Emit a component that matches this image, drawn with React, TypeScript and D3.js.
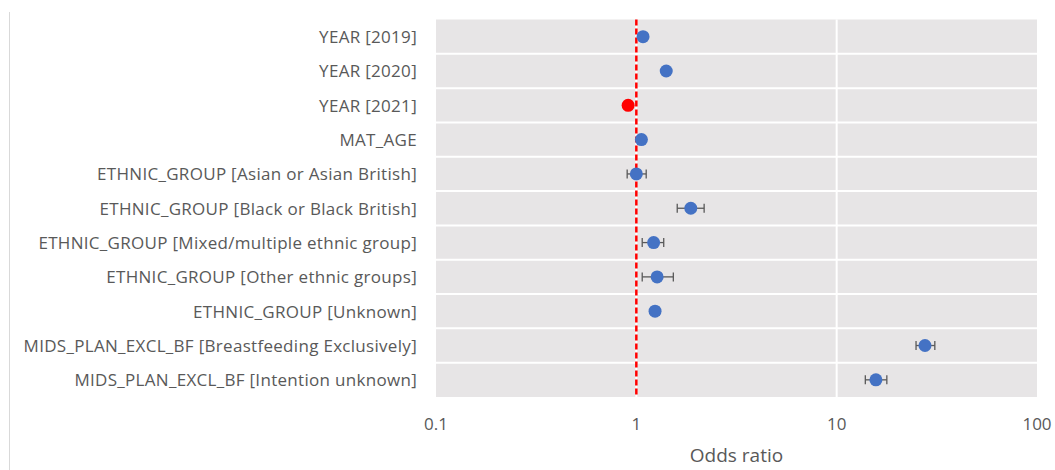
import React from "react";
import * as d3 from "d3";

const labels = [
  "YEAR [2019]",
  "YEAR [2020]",
  "YEAR [2021]",
  "MAT_AGE",
  "ETHNIC_GROUP [Asian or Asian British]",
  "ETHNIC_GROUP [Black or Black British]",
  "ETHNIC_GROUP [Mixed/multiple ethnic group]",
  "ETHNIC_GROUP [Other ethnic groups]",
  "ETHNIC_GROUP [Unknown]",
  "MIDS_PLAN_EXCL_BF [Breastfeeding Exclusively]",
  "MIDS_PLAN_EXCL_BF [Intention unknown]",
];
const oddsRatio = [1.08, 1.41, 0.91, 1.06, 1.0, 1.87, 1.22, 1.27, 1.24, 27.6, 15.7];
const ciLower = [1.05, 1.36, 0.88, 1.05, 0.9, 1.6, 1.07, 1.07, 1.19, 24.9, 13.9];
const ciUpper = [1.11, 1.46, 0.94, 1.07, 1.12, 2.18, 1.37, 1.53, 1.3, 30.9, 17.8];
const significantBelow = [false, false, true, false, false, false, false, false, false, false, false];
const xTicks = [0.1, 1, 10, 100];
const xTickLabels = ["0.1", "1", "10", "100"];

export default function App() {
  const W = 1055, H = 470;
  const left = 436, right = 1037, top = 19.5, bottom = 397;
  const x = d3.scaleLog().domain([0.1, 100]).range([left, right]);
  const y = d3.scaleBand<number>().domain(labels.map((_, i) => i)).range([top, bottom]).padding(0);
  const font = "'Open Sans', sans-serif";
  const textColor = "#595959";
  const bw = y.bandwidth();

  return (
    <svg width={W} height={H} style={{ position: "absolute", left: 0, top: 0 }}>
      <rect x={0} y={0} width={W} height={H} fill="#fff" />
      <line x1={9.5} x2={9.5} y1={12} y2={H} stroke="#d9d9d9" strokeWidth={1} />
      <rect x={left} y={top} width={right - left} height={bottom - top} fill="#E7E5E6" />
      {labels.slice(1).map((_, i) => (
        <line key={"h" + i} x1={left} x2={right} y1={y(i + 1)!} y2={y(i + 1)!} stroke="#fff" strokeWidth={2} />
      ))}
      {xTicks.slice(1, -1).map((t) => (
        <line key={"v" + t} x1={x(t)} x2={x(t)} y1={top} y2={bottom} stroke="#fff" strokeWidth={2} />
      ))}
      <line x1={x(1)} x2={x(1)} y1={top} y2={bottom} stroke="#FF0000" strokeWidth={2.5} strokeDasharray="6 3" />
      {labels.map((lab, i) => {
        const cy = y(i)! + bw / 2;
        const lo = x(ciLower[i]), hi = x(ciUpper[i]);
        return (
          <g key={lab}>
            <line x1={lo} x2={hi} y1={cy} y2={cy} stroke="#595959" strokeWidth={1.3} />
            <line x1={lo} x2={lo} y1={cy - 4.5} y2={cy + 4.5} stroke="#595959" strokeWidth={1.3} />
            <line x1={hi} x2={hi} y1={cy - 4.5} y2={cy + 4.5} stroke="#595959" strokeWidth={1.3} />
            <circle cx={x(oddsRatio[i])} cy={cy} r={6.5} fill={significantBelow[i] ? "#FF0000" : "#4472C4"} />
            <text x={417} y={cy} textAnchor="end" dominantBaseline="central" fontFamily={font} fontSize={17} letterSpacing={0.3} fill={textColor}>
              {lab}
            </text>
          </g>
        );
      })}
      {xTicks.map((t, i) => (
        <text key={"t" + t} x={x(t)} y={423} textAnchor="middle" dominantBaseline="central" fontFamily={font} fontSize={17} fill={textColor}>
          {xTickLabels[i]}
        </text>
      ))}
      <text x={(left + right) / 2} y={455} textAnchor="middle" dominantBaseline="central" fontFamily={font} fontSize={19} fill={textColor}>
        Odds ratio
      </text>
    </svg>
  );
}
